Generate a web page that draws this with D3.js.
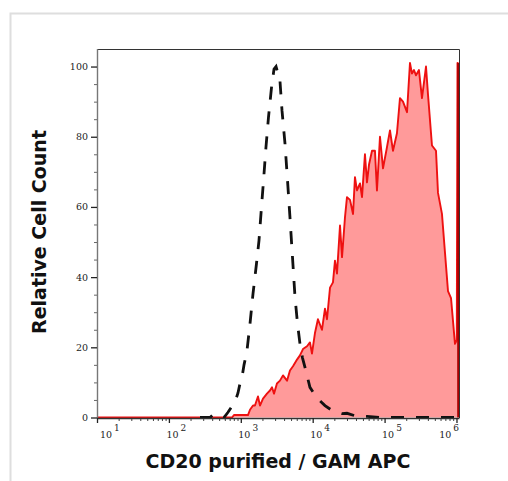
<!DOCTYPE html>
<html>
<head>
<meta charset="utf-8">
<script src="https://cdn.jsdelivr.net/npm/d3@7"></script>
<style>
  body { margin: 0; background: #fff; }
  svg { display: block; }
</style>
</head>
<body>
<div id="chart"></div>
<script>
// x values are log10 of the channel intensity, y values are relative counts

// CD20 purified / GAM APC (red, filled)
var cd20Exp = [1.000, 2.878, 2.905, 3.100, 3.128, 3.170, 3.197, 3.239, 3.267, 3.309,
  3.364, 3.406, 3.434, 3.462, 3.503, 3.545, 3.587, 3.643, 3.684, 3.726,
  3.782, 3.823, 3.865, 3.921, 3.962, 3.990, 4.031, 4.073, 4.129, 4.171,
  4.199, 4.241, 4.282, 4.310, 4.338, 4.380, 4.408, 4.449, 4.477, 4.519,
  4.561, 4.588, 4.616, 4.658, 4.686, 4.727, 4.755, 4.783, 4.825, 4.866,
  4.894, 4.936, 4.978, 5.033, 5.075, 5.117, 5.172, 5.214, 5.256, 5.312,
  5.353, 5.381, 5.409, 5.437, 5.478, 5.520, 5.576, 5.604, 5.659, 5.715,
  5.743, 5.798, 5.840, 5.882, 5.924, 5.979, 6.004, 6.014, 6.028];
var cd20Count = [0, 0, 0.7, 0.7, 2.2, 3.4, 3.4, 6.0, 3.4, 5.4,
  6.8, 7.7, 8.6, 6.8, 9.7, 10.5, 12, 10.5, 13.4, 14.6,
  16.5, 17.7, 19.5, 20.3, 21.4, 18.2, 24, 28, 25, 31,
  28, 37, 38.5, 44.7, 41, 54.7, 45.7, 57, 62.8, 62,
  58, 68.5, 64.7, 66.7, 62.8, 75, 67, 72, 76, 76,
  64.7, 80, 71, 77, 81.8, 76, 81, 91, 90, 87,
  101, 98, 99, 97.5, 99, 91, 100, 92, 77.5, 76,
  64, 58, 47, 36, 34, 21, 22, 101, 101];

// isotype control (black, dashed)
var isoExp = [2.433, 2.572, 2.613, 2.655, 2.697, 2.766, 2.822, 2.864, 2.919, 2.961,
  2.989, 3.017, 3.045, 3.086, 3.128, 3.170, 3.218, 3.253, 3.288, 3.316,
  3.350, 3.385, 3.427, 3.462, 3.490, 3.510, 3.538, 3.573, 3.615, 3.650,
  3.684, 3.719, 3.754, 3.789, 3.823, 3.858, 3.893, 3.962, 4.053, 4.115,
  4.171, 4.255, 4.338, 4.408, 4.477, 4.588, 4.755, 4.936, 6.007];
var isoCount = [0, 0, 0.8, 1.0, 0.5, 0, 1.5, 2.8, 4.4, 7,
  9.7, 11.5, 15, 19, 26.7, 35.3, 43.8, 50.4, 60, 67.5,
  77, 85.5, 94, 99.3, 100, 98.5, 98, 87.5, 78, 67.5,
  57, 45.7, 34.3, 26.7, 21, 17, 14.3, 8.6, 5.8, 4.5,
  3.4, 2.2, 1.5, 1.1, 1.2, 0.5, 0.3, 0, 0];

var yTicks = [0, 20, 40, 60, 80, 100];
var yMinor = [5, 10, 15, 25, 30, 35, 45, 50, 55, 65, 70, 75, 85, 90, 95];
var xDecades = [1, 2, 3, 4, 5, 6];

var svgWidth = 508;
var svgHeight = 481;

var plot = {left: 97, right: 459, top: 49, bottom: 418};

var svg = d3.select("#chart")
  .append("svg")
  .attr("width", svgWidth)
  .attr("height", svgHeight);

// light outer frame
svg.append("rect")
  .attr("x", 10.5).attr("y", 13.5)
  .attr("width", 600).attr("height", 600)
  .attr("fill", "none")
  .attr("stroke", "#dedede")
  .attr("stroke-width", 2);

var xScale = d3.scaleLog()
  .domain([10, Math.pow(10, 6.035)])
  .range([plot.left, plot.right]);

var yScale = d3.scaleLinear()
  .domain([0, 105])
  .range([417.5, plot.top]);

var cd20 = cd20Exp.map((e, i) => ({x: Math.pow(10, e), y: cd20Count[i]}));
var iso = isoExp.map((e, i) => ({x: Math.pow(10, e), y: isoCount[i]}));

var area = d3.area()
  .x(d => xScale(d.x))
  .y0(yScale(0))
  .y1(d => yScale(d.y));

var line = d3.line()
  .x(d => xScale(d.x))
  .y(d => yScale(d.y));

// red filled histogram
svg.append("path")
  .datum(cd20)
  .attr("d", area)
  .attr("fill", "#ff9a9a");

svg.append("path")
  .datum(cd20)
  .attr("d", line)
  .attr("fill", "none")
  .attr("stroke", "#ee1111")
  .attr("stroke-width", 1.9)
  .attr("stroke-linejoin", "round");

// pile-up bin on the right edge
var last = cd20[cd20.length - 1];
svg.append("line")
  .attr("x1", xScale(last.x)).attr("x2", xScale(last.x))
  .attr("y1", yScale(0)).attr("y2", yScale(last.y))
  .attr("stroke", "#a80000")
  .attr("stroke-width", 2.6);

// dashed control
svg.append("path")
  .datum(iso)
  .attr("d", line)
  .attr("fill", "none")
  .attr("stroke", "#111")
  .attr("stroke-width", 2.8)
  .attr("stroke-dasharray", "13,12");

// top and right borders
svg.append("path")
  .attr("d", `M${plot.left},${plot.top + 0.5}H${plot.right + 0.5}V${plot.bottom}`)
  .attr("fill", "none")
  .attr("stroke", "#333")
  .attr("stroke-width", 1);

// y axis
var yMinorAxis = d3.axisLeft(yScale).tickValues(yMinor).tickSize(3).tickFormat("");
var yAxis = d3.axisLeft(yScale).tickValues(yTicks).tickSize(6).tickPadding(3);

var gyMinor = svg.append("g")
  .attr("transform", `translate(${plot.left}, 0)`)
  .call(yMinorAxis);
gyMinor.select(".domain").remove();
gyMinor.selectAll("line").attr("stroke", "#666");

var gy = svg.append("g")
  .attr("transform", `translate(${plot.left}, 0)`)
  .call(yAxis);
gy.select(".domain")
  .attr("d", `M0.5,${plot.top}V${plot.bottom}`)
  .attr("stroke", "#777")
  .attr("stroke-width", 1.4);
gy.selectAll(".tick line").attr("stroke", "#222").attr("stroke-width", 1.3);
gy.selectAll("text")
  .attr("font-family", "DejaVu Serif")
  .attr("font-size", 9.5)
  .attr("fill", "#222");

// x axis
var xMinor = [];
xDecades.slice(0, 5).forEach(d => {
  for (var k = 2; k <= 9; k++) xMinor.push(k * Math.pow(10, d));
});
var xMajor = xDecades.map(d => Math.pow(10, d));

var xMinorAxis = d3.axisBottom(xScale).tickValues(xMinor).tickSize(3).tickFormat("");
var xAxis = d3.axisBottom(xScale).tickValues(xMajor).tickSize(5).tickFormat("");

var gxMinor = svg.append("g")
  .attr("transform", `translate(0, ${plot.bottom})`)
  .call(xMinorAxis);
gxMinor.select(".domain").remove();
gxMinor.selectAll("line").attr("stroke", "#444");

var gx = svg.append("g")
  .attr("transform", `translate(0, ${plot.bottom})`)
  .call(xAxis);
gx.select(".domain")
  .attr("d", `M${plot.left},0.5H${plot.right + 0.5}`)
  .attr("stroke", "#333")
  .attr("stroke-width", 1.4);
gx.selectAll(".tick line").attr("stroke", "#222").attr("stroke-width", 1.3);

// power-of-ten labels with superscripts
var labels = svg.append("g")
  .attr("font-family", "DejaVu Serif")
  .attr("fill", "#222");

xDecades.forEach(d => {
  var tx = xScale(Math.pow(10, d));
  var t = labels.append("text")
    .attr("y", 438)
    .attr("font-size", 9.5);
  t.append("tspan").text("10");
  t.append("tspan").attr("dx", 2).attr("dy", -7).attr("font-size", 9).text(d);
  var w = t.node().getComputedTextLength() + 2;
  var start = tx - 2.5;
  if (start < plot.left + 3) start = plot.left + 3;
  if (start + w > plot.right) start = plot.right - w;
  t.attr("x", start);
});

// axis titles
svg.append("text")
  .attr("x", (plot.left + plot.right) / 2)
  .attr("y", 468)
  .attr("text-anchor", "middle")
  .attr("font-family", "DejaVu Sans")
  .attr("font-weight", "bold")
  .attr("font-size", 19)
  .attr("fill", "#111")
  .text("CD20 purified / GAM APC");

svg.append("text")
  .attr("transform", `translate(46, 232) rotate(-90)`)
  .attr("text-anchor", "middle")
  .attr("font-family", "DejaVu Sans")
  .attr("font-weight", "bold")
  .attr("font-size", 19)
  .attr("fill", "#111")
  .text("Relative Cell Count");
</script>
</body>
</html>
